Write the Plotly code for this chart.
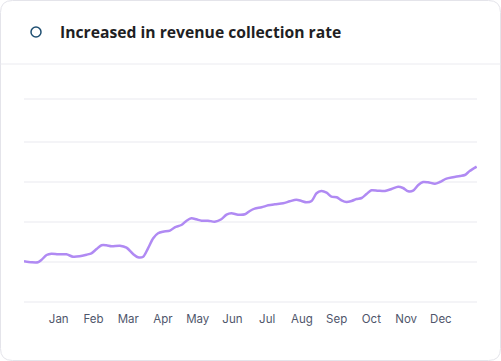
import plotly.graph_objects as go

# ---- data ----
months = ["Jan", "Feb", "Mar", "Apr", "May", "Jun", "Jul", "Aug", "Sep", "Oct", "Nov", "Dec"]
month_pos = [1, 2, 3, 4, 5, 6, 7, 8, 9, 10, 11, 12]
x_vals = [0.00, 0.21, 0.40, 0.50, 0.65, 0.79, 0.98, 1.22, 1.41, 1.60, 1.80, 1.94, 2.09, 2.23,
          2.37, 2.52, 2.76, 2.95, 3.14, 3.28, 3.43, 3.57, 3.72, 3.86, 4.00, 4.20, 4.34, 4.53,
          4.68, 4.82, 4.96, 5.11, 5.30, 5.49, 5.68, 5.83, 5.97, 6.16, 6.36, 6.50, 6.64, 6.84,
          7.03, 7.22, 7.46, 7.65, 7.84, 7.99, 8.13, 8.28, 8.42, 8.56, 8.71, 8.85, 9.00, 9.14,
          9.28, 9.43, 9.57, 9.72, 9.86, 10.00, 10.19, 10.39, 10.58, 10.77, 10.91, 11.06, 11.20,
          11.35, 11.49, 11.63, 11.83, 11.97, 12.16, 12.35, 12.55, 12.69, 12.83, 13.03]
rate = [10.18, 9.93, 9.93, 10.50, 11.75, 12.08, 11.93, 11.93, 11.33, 11.43, 11.83, 12.18, 13.25, 14.18,
        14.18, 13.93, 14.08, 13.58, 12.00, 11.18, 11.33, 13.43, 15.93, 17.18, 17.58, 17.83, 18.68, 19.25,
        20.33, 20.93, 20.68, 20.33, 20.33, 20.08, 20.68, 21.83, 22.18, 21.83, 21.93, 22.75, 23.33, 23.68,
        24.18, 24.43, 24.68, 25.18, 25.58, 25.25, 24.93, 25.25, 27.18, 27.75, 27.33, 26.33, 26.18, 25.43,
        25.00, 25.25, 25.75, 26.00, 27.00, 27.93, 27.83, 27.75, 28.25, 28.83, 28.50, 27.68, 27.83,
        29.25, 30.00, 29.93, 29.58, 30.00, 30.83, 31.18, 31.50, 31.75, 32.75, 33.83]
y_grid = [0, 10, 20, 30, 40, 50.75]
title_text = "Increased in revenue collection rate"

W, H = 501, 361
ML, MR, MT, MB = 24, 24, 94, 51
PW, PH = W - ML - MR, H - MT - MB
Y0, Y1 = -2.0, 52.0
X0, X1 = 0, 13.04
GRID = "#f1f1f4"


def px(x):
    return (x - ML) / PW


def py(y):
    return (H - MB - y) / PH


fig = go.Figure()
fig.add_trace(go.Scatter(
    x=x_vals, y=rate, mode="lines",
    line=dict(color="#b08af3", width=2.5, shape="spline", smoothing=0.8),
    hoverinfo="skip", showlegend=False,
))

# card border (rounded rectangle)
L, R, T, B, r = 0.5, W - 0.5, 0.5, H - 0.5, 12
path = (f"M {px(L + r)} {py(T)} L {px(R - r)} {py(T)} Q {px(R)} {py(T)} {px(R)} {py(T + r)} "
        f"L {px(R)} {py(B - r)} Q {px(R)} {py(B)} {px(R - r)} {py(B)} "
        f"L {px(L + r)} {py(B)} Q {px(L)} {py(B)} {px(L)} {py(B - r)} "
        f"L {px(L)} {py(T + r)} Q {px(L)} {py(T)} {px(L + r)} {py(T)} Z")
shapes = [
    dict(type="path", path=path, xref="paper", yref="paper",
         line=dict(color="#e4e4ea", width=1), layer="below"),
    dict(type="line", xref="paper", yref="paper", x0=px(0.5), x1=px(W - 0.5),
         y0=py(64), y1=py(64), line=dict(color="#ebebf0", width=1)),
    dict(type="circle", xref="paper", yref="paper", x0=px(36 - 5), x1=px(36 + 5),
         y0=py(32 + 5), y1=py(32 - 5), line=dict(color="#1f4f72", width=1.5)),
]
# horizontal grid lines at the y grid values
for gv in y_grid:
    shapes.append(dict(type="line", xref="x", yref="y", x0=X0, x1=X1, y0=gv, y1=gv,
                       line=dict(color=GRID, width=1.5), layer="below"))

fig.update_layout(
    width=W, height=H,
    margin=dict(l=ML, r=MR, t=MT, b=MB),
    paper_bgcolor="white", plot_bgcolor="rgba(0,0,0,0)",
    shapes=shapes,
    annotations=[dict(text=f"<b>{title_text}</b>", xref="paper", yref="paper",
                      x=px(58), y=py(32), xanchor="left", yanchor="middle", showarrow=False,
                      font=dict(family="Open Sans", size=15.7, color="#1f1f24"))],
    xaxis=dict(range=[X0, X1], tickmode="array", tickvals=month_pos, ticktext=months,
               showgrid=False, zeroline=False, showline=False, ticks="",
               tickfont=dict(family="Inter", size=11.5, color="#4f566b")),
    yaxis=dict(range=[Y0, Y1], showticklabels=False, showgrid=False,
               zeroline=False, showline=False),
)

fig.write_html("out.html", config={"displayModeBar": False},
               post_script="document.body.style.margin='0';")
